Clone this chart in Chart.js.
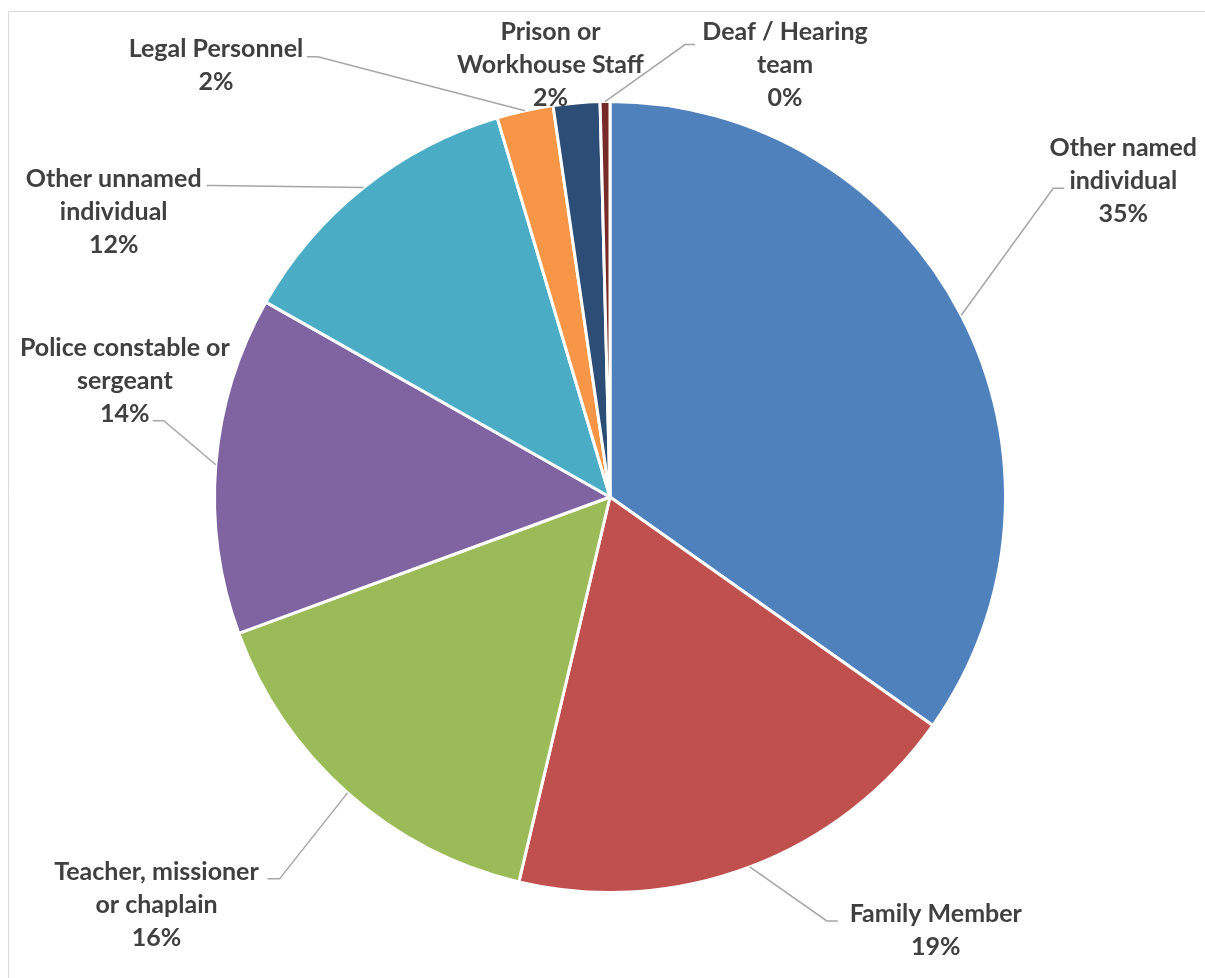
<!DOCTYPE html>
<html>
<head>
<meta charset="utf-8">
<script src="https://cdn.jsdelivr.net/npm/chart.js@4"></script>
<style>
  html, body { margin: 0; padding: 0; background: #ffffff; }
  #wrap { width: 1205px; height: 978px; position: relative; }
</style>
</head>
<body>
<div id="wrap"><canvas id="c" width="1205" height="978"></canvas></div>
<script>
// ---- data ----
const categories = [
  "Other named individual",
  "Family Member",
  "Teacher, missioner or chaplain",
  "Police constable or sergeant",
  "Other unnamed individual",
  "Legal Personnel",
  "Prison or Workhouse Staff",
  "Deaf / Hearing team"
];
const shares = [34.8, 18.9, 15.7, 13.8, 12.2, 2.3, 1.9, 0.4];
const sliceColors = ["#4F81BD", "#C0504D", "#9BBB59", "#8064A2", "#4BACC6", "#F79646", "#2C4D75", "#772C2A"];

// ---- label layout (offsets relative to the slice's outer mid-point) ----
const labelLines = [
  ["Other named", "individual"],
  ["Family Member"],
  ["Teacher, missioner", "or chaplain"],
  ["Police constable or", "sergeant"],
  ["Other unnamed", "individual"],
  ["Legal Personnel"],
  ["Prison or", "Workhouse Staff"],
  ["Deaf / Hearing", "team"]
];
const labelOffset = [[162,-167],[186,47],[-191,79],[-91,-117],[-250,-9],[-309,-62],[-26,-71],[180,-70]];
const leaderElbow = [[92,-127],[77,54],[-68,86],[-52,-44],[-150,-2],[-207,-54],null,[80,-57]];
const leaderEnd   = [[103,-127],[88,54],[-80,86],[-63,-44],[-157,-2],[-218,-54],null,[90,-57]];

const FONT = "bold 25px Lato";
const LINE_H = 33;

const labelPlugin = {
  id: 'excelLabels',
  afterDraw(chart) {
    const ctx = chart.ctx;
    ctx.save();
    // chart border (top + left)
    ctx.strokeStyle = '#d9d9d9';
    ctx.lineWidth = 1;
    ctx.beginPath();
    ctx.moveTo(8.5, 978);
    ctx.lineTo(8.5, 11.5);
    ctx.lineTo(1205, 11.5);
    ctx.stroke();

    const meta = chart.getDatasetMeta(0);
    const total = shares.reduce((a, b) => a + b, 0);
    meta.data.forEach((arc, i) => {
      const p = arc.getProps(['x', 'y', 'startAngle', 'endAngle', 'outerRadius'], true);
      const mid = (p.startAngle + p.endAngle) / 2;
      const ax = p.x + Math.cos(mid) * p.outerRadius;
      const ay = p.y + Math.sin(mid) * p.outerRadius;
      if (leaderElbow[i]) {
        ctx.strokeStyle = '#a6a6a6';
        ctx.lineWidth = 1.5;
        ctx.beginPath();
        ctx.moveTo(ax, ay);
        ctx.lineTo(ax + leaderElbow[i][0], ay + leaderElbow[i][1]);
        ctx.lineTo(ax + leaderEnd[i][0], ay + leaderEnd[i][1]);
        ctx.stroke();
      }
      const lines = labelLines[i].concat([Math.round(shares[i] / total * 100) + '%']);
      ctx.fillStyle = '#404040';
      ctx.font = FONT;
      ctx.textAlign = 'center';
      ctx.textBaseline = 'middle';
      const tx = ax + labelOffset[i][0];
      const ty = ay + labelOffset[i][1];
      lines.forEach((ln, k) => ctx.fillText(ln, tx, ty + k * LINE_H));
    });
    ctx.restore();
  }
};

new Chart(document.getElementById('c'), {
  type: 'pie',
  data: {
    labels: categories,
    datasets: [{
      data: shares,
      backgroundColor: sliceColors,
      borderColor: '#ffffff',
      borderWidth: 3
    }]
  },
  options: {
    responsive: false,
    animation: false,
    layout: { padding: { left: 213, right: 198, top: 100, bottom: 84 } },
    plugins: { legend: { display: false }, tooltip: { enabled: false } }
  },
  plugins: [labelPlugin]
});
</script>
</body>
</html>
